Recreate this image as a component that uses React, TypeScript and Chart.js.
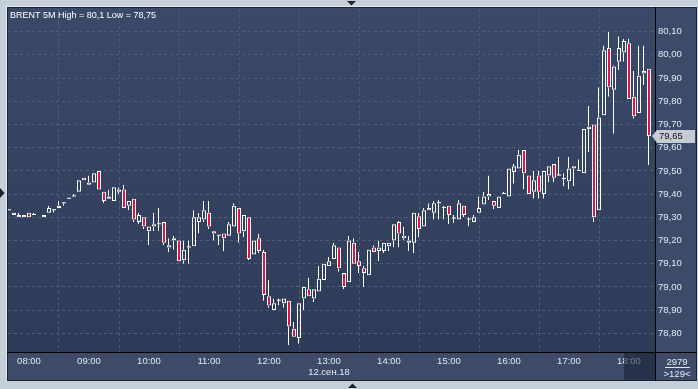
import { useEffect, useRef } from 'react';
import { Chart, registerables } from 'chart.js';

Chart.register(...registerables);

// ---- data (5-minute bars, index 0 = 08:00) ----
const FIRST_BAR = -4;
const OPEN = [
  79.33, 79.31, 79.30, 79.30, 79.32, 79.31, null, 79.30, 79.32, 79.33,
  79.34, 79.36, 79.38, 79.39, 79.41, 79.47, 79.45, 79.45, 79.50, 79.41,
  79.38, 79.37, 79.42, 79.42, 79.35, 79.38, 79.28, 79.30, 79.24, 79.27,
  79.27, 79.28, 79.18, 79.20, 79.20, 79.115, 79.17, 79.175, 79.28, 79.29,
  79.32, 79.24, 79.22, 79.23, 79.22, 79.26, 79.34, 79.24, 79.30, 79.14,
  79.21, 79.15, 78.96, 78.90, 78.94, 78.93, 78.94, 78.82, 78.78, 78.95,
  78.99, 78.95, 78.98, 79.03, 79.09, 79.12, 79.17, 79.06, 79.02, 79.19,
  79.11, 79.08, 79.05, 79.17, 79.155, 79.155, 79.175, 79.20, 79.28, 79.22,
  79.19, 79.19, 79.305, 79.26, 79.34, 79.32, 79.36, 79.34, 79.35, 79.295,
  79.29, 79.35, 79.29, 79.28, 79.32, 79.355, 79.40, 79.37, 79.34, 79.40,
  79.39, 79.495, 79.51, 79.59, 79.48, 79.41, 79.48, 79.40, 79.48, 79.53,
  79.48, 79.465, 79.455, 79.52, 79.50, 79.49, 79.69, 79.70, 79.33, 79.74,
  80.03, 79.85, 79.97, 80.01, 80.05, 79.82, 79.75, 79.92, 79.94,
];
const HIGH = [
  79.33, 79.32, 79.32, 79.31, 79.32, 79.32, null, 79.31, 79.35, 79.33,
  79.37, 79.36, 79.38, 79.40, 79.46, 79.47, 79.48, 79.49, 79.50, 79.41,
  79.42, 79.43, 79.43, 79.44, 79.37, 79.38, 79.32, 79.30, 79.26, 79.32,
  79.34, 79.28, 79.21, 79.22, 79.20, 79.20, 79.20, 79.33, 79.32, 79.37,
  79.37, 79.24, 79.22, 79.23, 79.28, 79.36, 79.34, 79.31, 79.30, 79.20,
  79.23, 79.16, 79.03, 78.95, 78.95, 78.95, 78.94, 78.85, 78.93, 79.00,
  79.04, 78.99, 79.09, 79.10, 79.13, 79.19, 79.17, 79.06, 79.22, 79.21,
  79.15, 79.09, 79.16, 79.18, 79.20, 79.19, 79.19, 79.27, 79.285, 79.26,
  79.22, 79.32, 79.32, 79.34, 79.36, 79.37, 79.375, 79.35, 79.35, 79.31,
  79.375, 79.35, 79.30, 79.31, 79.39, 79.41, 79.48, 79.37, 79.39, 79.41,
  79.51, 79.53, 79.59, 79.59, 79.48, 79.50, 79.50, 79.50, 79.52, 79.53,
  79.56, 79.49, 79.56, 79.52, 79.55, 79.68, 79.78, 79.70, 79.86, 80.04,
  80.10, 79.955, 80.08, 80.07, 80.07, 79.93, 80.04, 80.04, 79.94,
];
const LOW = [
  79.33, 79.31, 79.30, 79.30, 79.30, 79.31, null, 79.30, 79.32, 79.32,
  79.34, 79.35, 79.38, 79.39, 79.41, 79.46, 79.44, 79.45, 79.42, 79.36,
  79.38, 79.37, 79.40, 79.34, 79.33, 79.28, 79.27, 79.25, 79.18, 79.24,
  79.24, 79.18, 79.15, 79.16, 79.11, 79.10, 79.10, 79.175, 79.23, 79.28,
  79.25, 79.20, 79.18, 79.155, 79.22, 79.26, 79.19, 79.215, 79.115, 79.14,
  79.145, 78.94, 78.91, 78.90, 78.92, 78.91, 78.75, 78.785, 78.755, 78.90,
  78.96, 78.935, 78.98, 79.03, 79.09, 79.12, 79.065, 78.99, 79.02, 79.10,
  79.06, 79.00, 79.05, 79.15, 79.11, 79.145, 79.155, 79.17, 79.17, 79.20,
  79.155, 79.145, 79.215, 79.26, 79.33, 79.29, 79.29, 79.29, 79.27, 79.275,
  79.29, 79.30, 79.26, 79.28, 79.32, 79.355, 79.375, 79.335, 79.34, 79.40,
  79.39, 79.445, 79.51, 79.42, 79.40, 79.38, 79.38, 79.38, 79.45, 79.45,
  79.48, 79.435, 79.42, 79.435, 79.50, 79.49, 79.58, 79.28, 79.33, 79.74,
  79.82, 79.66, 79.935, 79.97, 79.81, 79.725, 79.75, 79.87, 79.525,
];
const CLOSE = [
  79.33, 79.32, 79.31, 79.31, 79.30, 79.31, null, 79.31, 79.34, 79.33,
  79.35, 79.36, 79.38, 79.39, 79.46, 79.46, 79.44, 79.49, 79.42, 79.37,
  79.39, 79.43, 79.41, 79.34, 79.37, 79.29, 79.31, 79.26, 79.26, 79.26,
  79.27, 79.19, 79.17, 79.21, 79.11, 79.16, 79.17, 79.30, 79.30, 79.33,
  79.26, 79.23, 79.22, 79.21, 79.27, 79.35, 79.23, 79.31, 79.12, 79.20,
  79.155, 78.965, 78.92, 78.93, 78.94, 78.95, 78.83, 78.785, 78.93, 79.00,
  78.96, 78.99, 79.035, 79.10, 79.11, 79.18, 79.08, 79.00, 79.20, 79.10,
  79.09, 79.06, 79.16, 79.15, 79.17, 79.19, 79.19, 79.27, 79.23, 79.21,
  79.20, 79.32, 79.25, 79.33, 79.33, 79.36, 79.36, 79.34, 79.31, 79.295,
  79.36, 79.31, 79.29, 79.30, 79.34, 79.39, 79.39, 79.35, 79.39, 79.40,
  79.51, 79.52, 79.57, 79.49, 79.40, 79.46, 79.41, 79.50, 79.52, 79.47,
  79.48, 79.465, 79.51, 79.51, 79.50, 79.68, 79.68, 79.30, 79.73, 80.02,
  79.86, 79.95, 80.03, 80.06, 79.81, 79.735, 79.91, 79.93, 79.65,
];

const HOUR_TICKS = [0, 12, 24, 36, 48, 60, 72, 84, 96, 108, 120];
const HOUR_LABELS = ['08:00', '09:00', '10:00', '11:00', '12:00', '13:00', '14:00', '15:00', '16:00', '17:00', '18:00'];
const DATE_TICK = 60;
const DATE_LABEL = '12.сен.18';
const PRICE_TICKS = [78.8, 78.9, 79.0, 79.1, 79.2, 79.3, 79.4, 79.5, 79.6, 79.7, 79.8, 79.9, 80.0, 80.1];
const TITLE = 'BRENT 5M High = 80,1 Low = 78,75';
const LAST_PRICE = 79.65;
const INFO_TOP = '2979';
const INFO_BOTTOM = '>129<';

const X_MIN = -4.2;
const X_MAX = 125.2;
const Y_MIN = 78.7194;
const Y_MAX = 80.199;

const RED = '#e3123f';
const WHITE = '#ffffff';
const FONT = '"Liberation Sans", Arial, sans-serif';
const LABEL_COLOR = '#e4e9f1';
const GRID_COLOR = '#4f5d7a';

type Bar = { x: number; y: [number, number]; o: number; c: number };

function buildData() {
  const bodies: Bar[] = [];
  const upper: { x: number; y: [number, number] }[] = [];
  const lower: { x: number; y: [number, number] }[] = [];
  for (let k = 0; k < OPEN.length; k++) {
    const o = OPEN[k];
    const h = HIGH[k];
    const l = LOW[k];
    const c = CLOSE[k];
    if (o == null || h == null || l == null || c == null) continue;
    const x = FIRST_BAR + k;
    const top = Math.max(o, c);
    const bot = Math.min(o, c);
    bodies.push({ x, y: [o, c], o, c });
    if (h > top) upper.push({ x, y: [top, h] });
    if (l < bot) lower.push({ x, y: [l, bot] });
  }
  return { bodies, upper, lower };
}

const framePlugin = {
  id: 'frame',
  beforeDraw(chart: any) {
    const { ctx, chartArea: a } = chart;
    ctx.save();
    ctx.fillStyle = '#c5cfda';
    ctx.fillRect(0, 0, chart.width, chart.height);
    ctx.fillStyle = '#e3e8ee';
    ctx.fillRect(6, 6, 691, 375);
    ctx.fillStyle = '#1c2333';
    ctx.fillRect(7, 7, 690, 374);
    ctx.fillStyle = '#3d4b69';
    ctx.fillRect(8, 8, 688, 372);
    const g = ctx.createLinearGradient(0, a.top, 0, a.bottom);
    g.addColorStop(0, '#3b4969');
    g.addColorStop(1, '#2e3b58');
    ctx.fillStyle = g;
    ctx.fillRect(a.left, a.top, a.right - a.left, a.bottom - a.top);
    ctx.restore();
  },
  afterDraw(chart: any) {
    const { ctx, chartArea: a } = chart;
    const yScale = chart.scales.y;
    ctx.save();
    // dark marker box over last bars on time axis
    ctx.fillStyle = 'rgba(22,30,48,0.55)';
    ctx.fillRect(624, a.bottom + 1, a.right - 624, 380 - a.bottom - 1);
    // separator lines
    ctx.fillStyle = '#000000';
    ctx.fillRect(a.right, 7, 1, 374);
    ctx.fillRect(7, a.bottom, 690, 1);
    // title
    ctx.fillStyle = WHITE;
    ctx.font = `9px ${FONT}`;
    ctx.textBaseline = 'alphabetic';
    ctx.textAlign = 'left';
    ctx.fillText(TITLE, 10, 18);
    // last price label
    const py = Math.round(yScale.getPixelForValue(LAST_PRICE));
    ctx.fillStyle = '#c6ccd5';
    ctx.beginPath();
    ctx.moveTo(652, py);
    ctx.lineTo(657, py - 6);
    ctx.lineTo(695, py - 6);
    ctx.lineTo(695, py + 7);
    ctx.lineTo(657, py + 7);
    ctx.closePath();
    ctx.fill();
    ctx.fillStyle = '#111111';
    ctx.font = `9.5px ${FONT}`;
    ctx.textBaseline = 'middle';
    ctx.fillText(LAST_PRICE.toFixed(2).replace('.', ','), 659, py + 0.5);
    // info texts bottom-right
    ctx.fillStyle = LABEL_COLOR;
    ctx.textAlign = 'center';
    ctx.fillText(INFO_TOP, 677, 362);
    ctx.fillRect(665, 367, 25, 1);
    ctx.fillText(INFO_BOTTOM, 677, 374);
    // small navigation triangles
    ctx.fillStyle = '#1a2130';
    ctx.beginPath();
    ctx.moveTo(347, 1);
    ctx.lineTo(356, 1);
    ctx.lineTo(351.5, 5.5);
    ctx.closePath();
    ctx.fill();
    ctx.beginPath();
    ctx.moveTo(0, 188);
    ctx.lineTo(0, 198);
    ctx.lineTo(4.5, 193);
    ctx.closePath();
    ctx.fill();
    ctx.beginPath();
    ctx.moveTo(348, 388);
    ctx.lineTo(357, 388);
    ctx.lineTo(352.5, 383.5);
    ctx.closePath();
    ctx.fill();
    ctx.restore();
  },
};

const wickStyle = {
  order: 1,
  grouped: false,
  barThickness: 2,
  borderSkipped: false,
  borderWidth: { left: 1, right: 0, top: 0, bottom: 0 },
  borderColor: WHITE,
  backgroundColor: 'rgba(0,0,0,0)',
  inflateAmount: 0,
};

export default function App() {
  const ref = useRef<HTMLCanvasElement | null>(null);

  useEffect(() => {
    if (!ref.current) return;
    const { bodies, upper, lower } = buildData();
    const chart = new Chart(ref.current, {
      type: 'bar',
      data: {
        datasets: [
          {
            label: 'body',
            data: bodies as any,
            order: 0,
            grouped: false,
            barThickness: 4,
            minBarLength: 1,
            borderSkipped: false,
            inflateAmount: 0,
            borderColor: WHITE,
            borderWidth: (c: any) => (c.raw && c.raw.o === c.raw.c ? 0 : 1),
            backgroundColor: (c: any) => {
              const r = c.raw;
              if (!r) return 'rgba(0,0,0,0)';
              if (r.c < r.o) return RED;
              if (r.c === r.o) return WHITE;
              return 'rgba(0,0,0,0)';
            },
          } as any,
          { label: 'upper', data: upper as any, ...wickStyle } as any,
          { label: 'lower', data: lower as any, ...wickStyle } as any,
        ],
      },
      options: {
        responsive: false,
        animation: false,
        devicePixelRatio: 1,
        layout: { padding: { left: 8, top: 8, right: 2, bottom: 9 } },
        plugins: {
          legend: { display: false },
          tooltip: { enabled: false },
          title: { display: false },
        },
        events: [],
        scales: {
          x: {
            type: 'linear',
            position: 'bottom',
            min: X_MIN,
            max: X_MAX,
            offset: false,
            afterFit: (s: any) => {
              s.height = 28;
            },
            afterBuildTicks: (s: any) => {
              s.ticks = HOUR_TICKS.map((v) => ({ value: v }));
            },
            grid: {
              color: GRID_COLOR,
              lineWidth: 1,
              drawTicks: false,
            },
            border: { display: false, dash: [3, 3] },
            ticks: {
              autoSkip: false,
              maxRotation: 0,
              minRotation: 0,
              padding: 3,
              color: LABEL_COLOR,
              font: { family: FONT, size: 9.5, lineHeight: 1.25 },
              callback: (v: any) => {
                const k = HOUR_TICKS.indexOf(Number(v));
                if (k < 0) return '';
                return Number(v) === DATE_TICK ? [HOUR_LABELS[k], DATE_LABEL] : HOUR_LABELS[k];
              },
            },
          },
          y: {
            type: 'linear',
            position: 'right',
            min: Y_MIN,
            max: Y_MAX,
            afterFit: (s: any) => {
              s.width = 41;
            },
            afterBuildTicks: (s: any) => {
              s.ticks = PRICE_TICKS.map((v) => ({ value: v }));
            },
            grid: {
              color: GRID_COLOR,
              lineWidth: 1,
              drawTicks: false,
            },
            border: { display: false, dash: [3, 3] },
            ticks: {
              padding: 3,
              color: LABEL_COLOR,
              font: { family: FONT, size: 9.5 },
              callback: (v: any) => Number(v).toFixed(2).replace('.', ','),
            },
          },
        },
      } as any,
      plugins: [framePlugin],
    });
    return () => chart.destroy();
  }, []);

  return (
    <div style={{ position: 'fixed', left: 0, top: 0, width: 698, height: 389 }}>
      <canvas ref={ref} width={698} height={389} style={{ width: 698, height: 389, display: 'block' }} />
    </div>
  );
}
